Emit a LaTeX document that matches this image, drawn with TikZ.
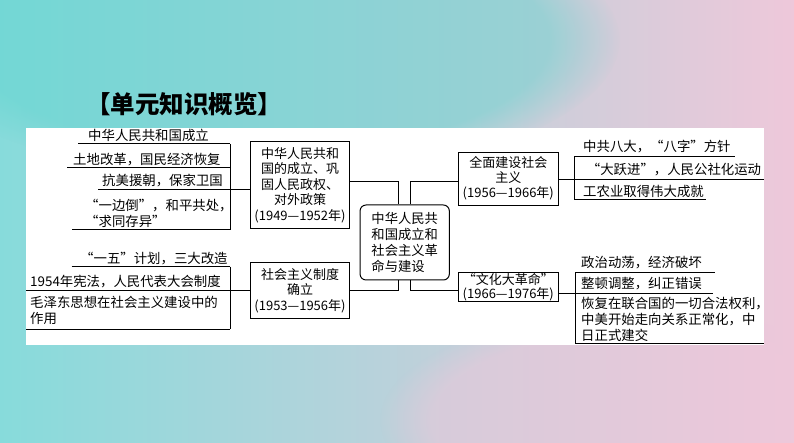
\documentclass[tikz,border=0pt]{standalone}
\usepackage{fontspec}
\setmainfont{Noto Sans CJK SC}
\usetikzlibrary{fadings}
\definecolor{bgteal}{RGB}{135,219,219}
\definecolor{bgdeep}{RGB}{92,212,206}
\definecolor{bgpale}{RGB}{214,224,234}
\definecolor{bgpink}{RGB}{238,200,218}
\tikzset{
  box/.style={draw,black,line width=1pt,fill=white,align=center,inner sep=0pt,font=\fontsize{13}{15.5}\selectfont},
  item/.style={anchor=west,inner sep=0pt,align=left,font=\fontsize{13.4}{16}\selectfont},
  ln/.style={-,black,line width=1pt},
}

\begin{document}
\begin{tikzpicture}[x=1pt,y=-1pt]
        \useasboundingbox (0,0) rectangle (794,443);
        % background
        \shade[left color=bgteal,middle color=bgpale,right color=bgpink] (0,0) rectangle (794,443);
        \fill[bgdeep,opacity=0.45,path fading=circle with fuzzy edge 20 percent] (260,40) ellipse (360 and 140);
        \fill[bgpink,opacity=0.5,path fading=circle with fuzzy edge 20 percent] (640,420) ellipse (260 and 110);
        \fill[white] (26,128) rectangle (763.5,345);

        \node[anchor=west,inner sep=0pt,font=\fontsize{24.5}{27}\selectfont\bfseries] at (86,104) (title){【单元知识概览】};

        % boxes
        \node[box,minimum width=98.6pt,minimum height=86.6pt] at (300,185) (b1){中华人民共和\\国的成立、巩\\固人民政权、\\对外政策\\(1949—1952年)};
        \node[box,minimum width=98.6pt,minimum height=55.6pt] at (300,290.5) (b2){社会主义制度\\确立\\(1953—1956年)};
        \node[box,rounded corners=6pt,minimum width=89.3pt,minimum height=75pt,align=left,font=\fontsize{13.3}{16}\selectfont] at (404.7,242.5) (ctr){中华人民共\\和国成立和\\社会主义革\\命与建设};
        \node[box,minimum width=100pt,minimum height=52.7pt,font=\fontsize{13}{15}\selectfont] at (508.3,178.7) (r1){全面建设社会\\主义\\(1956—1966年)};
        \node[box,minimum width=100pt,minimum height=29pt,font=\fontsize{13}{13.5}\selectfont] at (508.3,287.2) (r2){“文化大革命”\\(1966—1976年)};

        % left items
        \node[item] at (88,135) (l1){中华人民共和国成立};
        \node[item] at (73,159.5) (l2){土地改革，国民经济恢复};
        \node[item] at (102,181) (l3){抗美援朝，保家卫国};
        \node[item] at (85,213.3) (l4){“一边倒”，和平共处，\\“求同存异”};
        \node[item] at (80,258.3) (l5){“一五”计划，三大改造};
        \node[item] at (30,281.7) (l6){1954年宪法，人民代表大会制度};
        \node[item] at (30,310.8) (l7){毛泽东思想在社会主义建设中的\\作用};

        % right items
        \node[item] at (583,146.7) (r1a){中共八大，“八字”方针};
        \node[item] at (586.7,170) (r1b){“大跃进”，人民公社化运动};
        \node[item] at (583,191.7) (r1c){工农业取得伟大成就};
        \node[item] at (581,262.7) (r2a){政治动荡，经济破坏};
        \node[item] at (581,283.3) (r2b){整顿调整，纠正错误};
        \node[item] at (581,319.2) (r2c){恢复在联合国的一切合法权利，\\中美开始走向关系正常化，中\\日正式建交};

        % center - boxes
        \coordinate (jl) at (398,182);
        \coordinate (jl2) at (398,290);
        \coordinate (jr) at (410,182);
        \coordinate (jr2) at (410,290);
        \draw[ln] (b1.east |- jl) -- (jl) -- (jl |- ctr.north); %b1-ctr
        \draw[ln] (b2.east |- jl2) -- (jl2) -- (jl2 |- ctr.south); %b2-ctr
        \draw[ln] (jr |- ctr.north) -- (jr) -- (r1.west |- jr); %ctr-r1
        \draw[ln] (jr2 |- ctr.south) -- (jr2) -- (r2.west |- jr2); %ctr-r2

        % left top group
        \coordinate (lc1) at (98,190);
        \draw[ln] (230,144) -- (230,230);
        \draw[ln] (78,144) -- (230,144); %l1
        \draw[ln] (67,167.7) -- (230,167.7); %l2
        \draw[ln] (lc1) -- (b1.west |- lc1); %l3-b1
        \draw[ln] (72,230) -- (230,230); %l4

        % left bottom group
        \coordinate (lc2) at (26,290);
        \draw[ln] (230,266.7) -- (230,329.3);
        \draw[ln] (71.7,266.7) -- (230,266.7); %l5
        \draw[ln] (lc2) -- (b2.west |- lc2); %l6-b2
        \draw[ln] (26,329.3) -- (230,329.3); %l7

        % right top group
        \coordinate (rc1) at (763.5,179.3);
        \draw[ln] (574,156.7) -- (574,200);
        \draw[ln] (574,156.7) -- (735,156.7); %r1a
        \draw[ln] (r1.east |- rc1) -- (rc1); %r1-r1b
        \draw[ln] (574,200) -- (706,200); %r1c

        % right bottom group
        \coordinate (rc2) at (713,293.3);
        \draw[ln] (575,272.3) -- (575,343.3);
        \draw[ln] (575,272.3) -- (715,272.3); %r2a
        \draw[ln] (r2.east |- rc2) -- (rc2); %r2-r2b
        \draw[ln] (575,343.3) -- (763.5,343.3); %r2c
\end{tikzpicture}
\end{document}
